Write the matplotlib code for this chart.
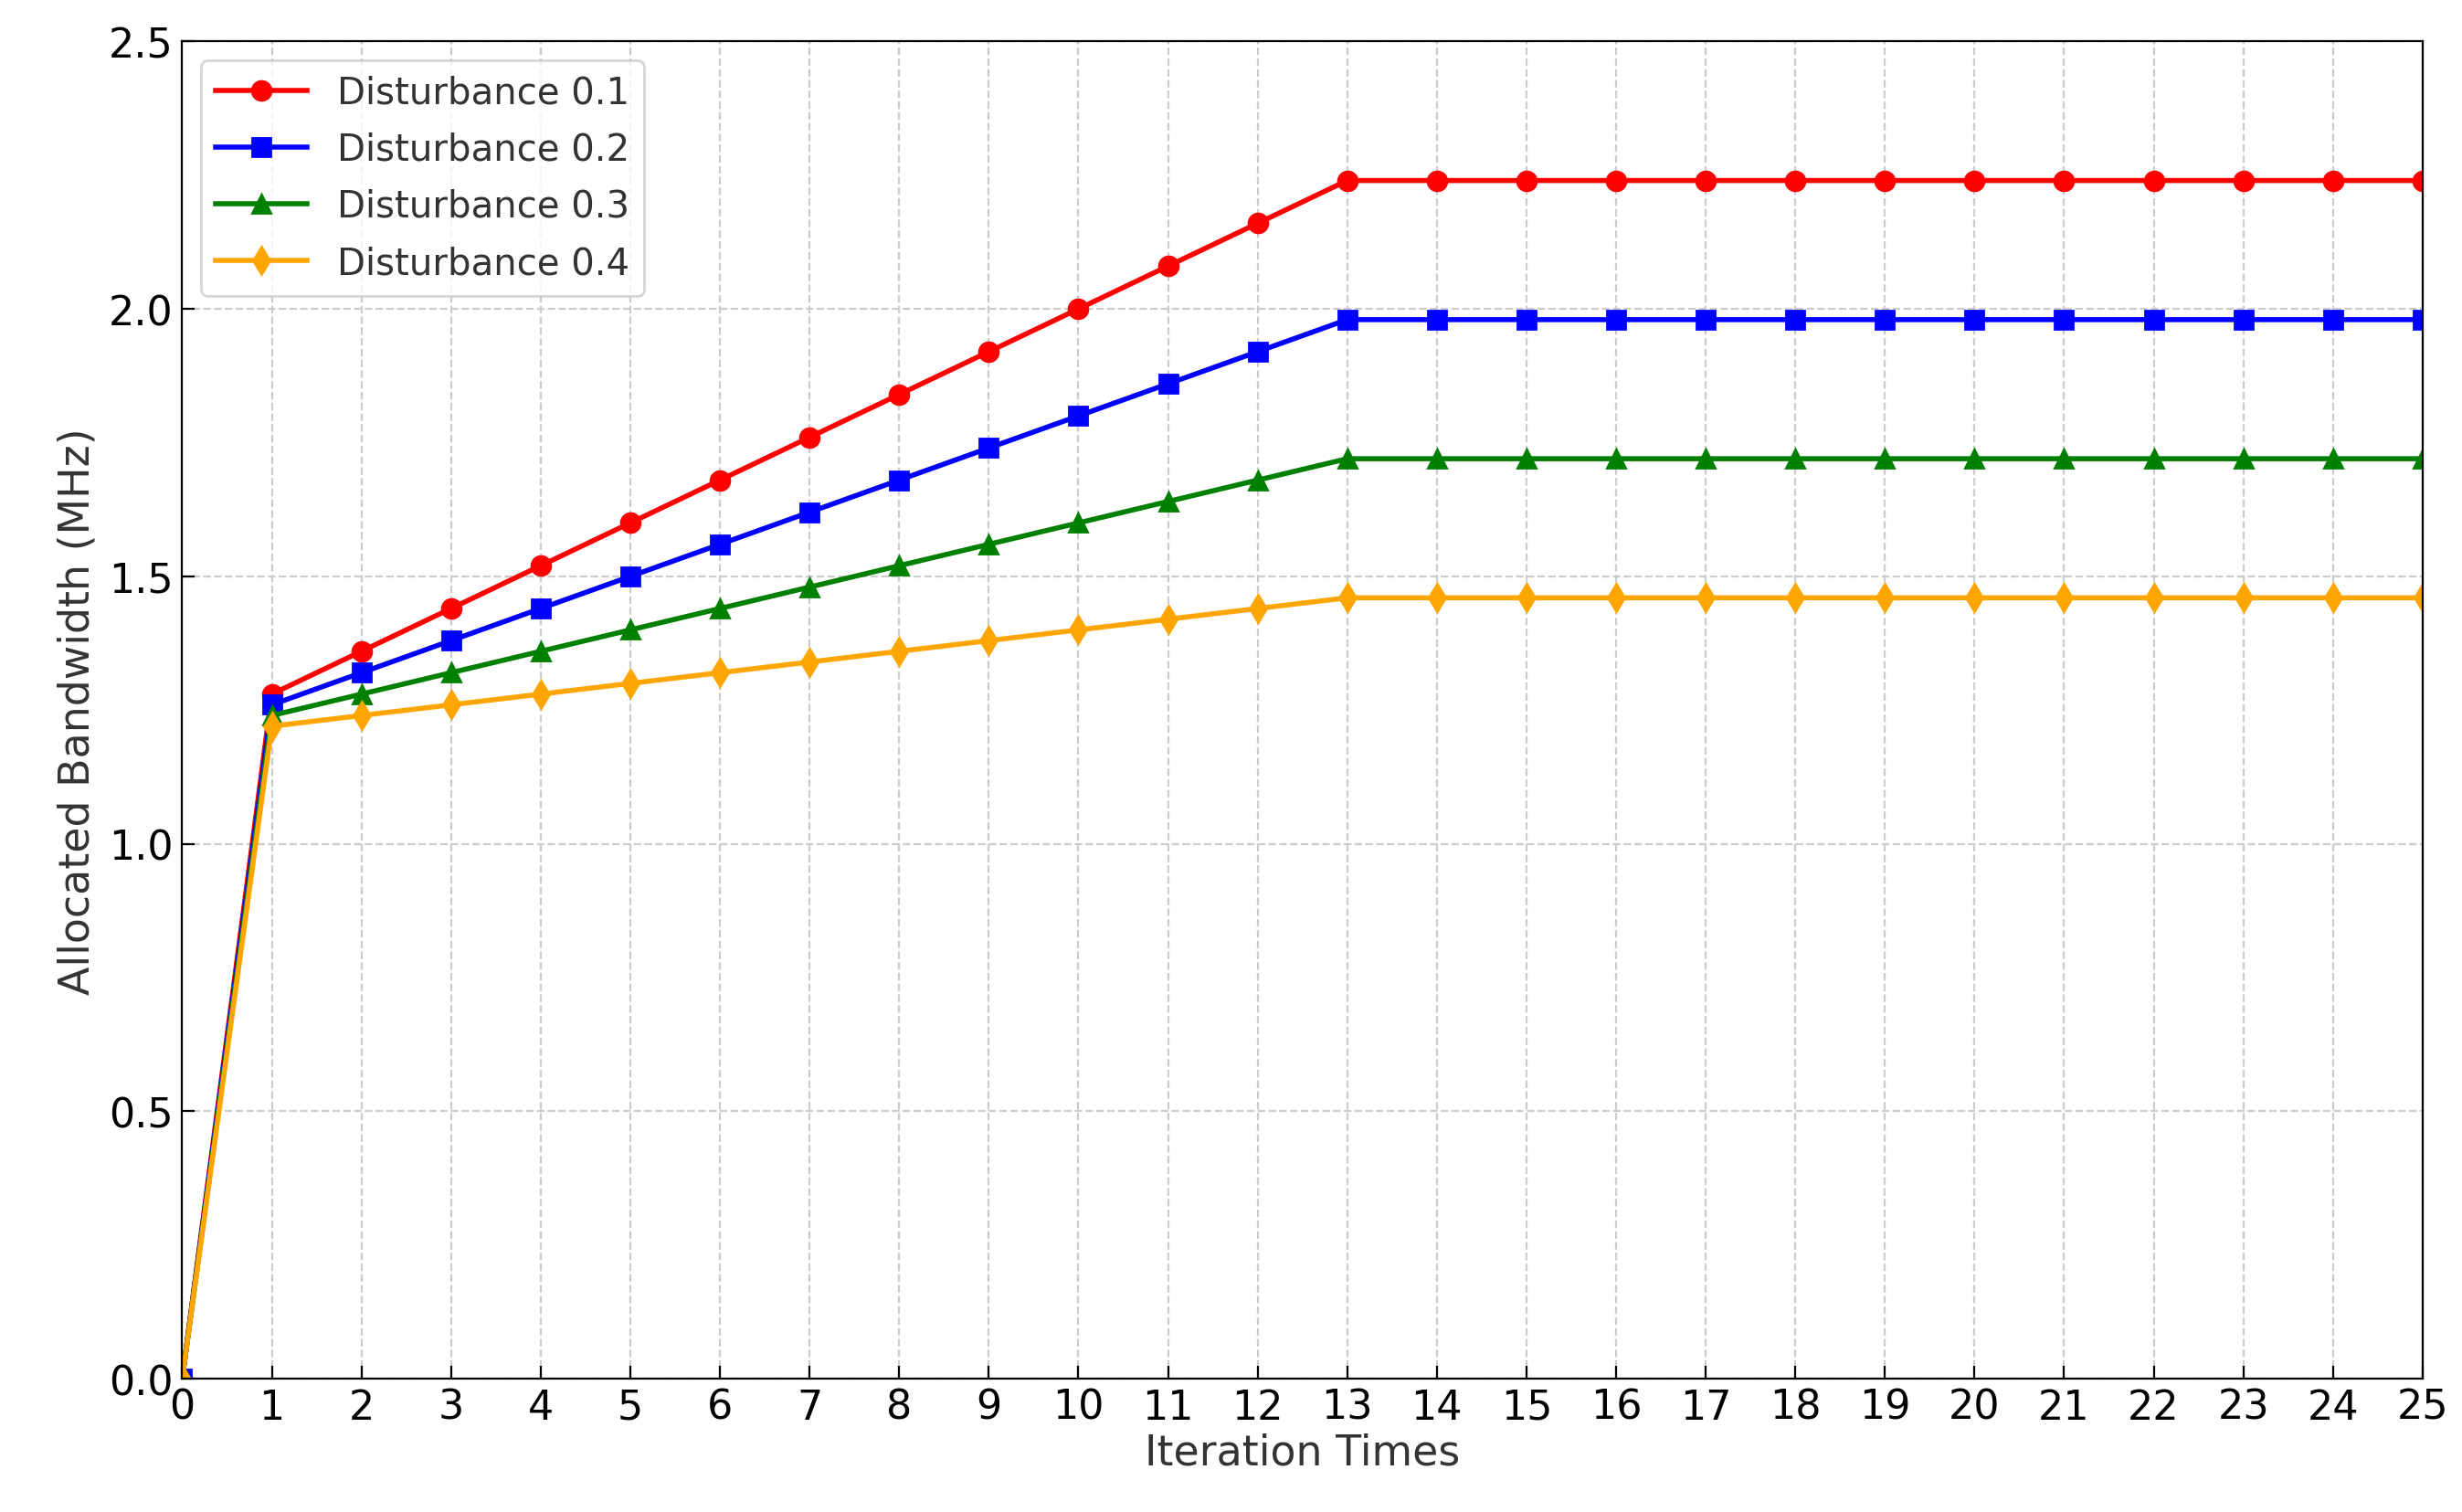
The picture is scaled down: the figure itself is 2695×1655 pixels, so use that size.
import matplotlib.pyplot as plt

iterations = list(range(26))
dist_01 = [0.0, 1.28, 1.36, 1.44, 1.52, 1.60, 1.68, 1.76, 1.84, 1.92, 2.00, 2.08, 2.16, 2.24,
           2.24, 2.24, 2.24, 2.24, 2.24, 2.24, 2.24, 2.24, 2.24, 2.24, 2.24, 2.24]
dist_02 = [0.0, 1.26, 1.32, 1.38, 1.44, 1.50, 1.56, 1.62, 1.68, 1.74, 1.80, 1.86, 1.92, 1.98,
           1.98, 1.98, 1.98, 1.98, 1.98, 1.98, 1.98, 1.98, 1.98, 1.98, 1.98, 1.98]
dist_03 = [0.0, 1.24, 1.28, 1.32, 1.36, 1.40, 1.44, 1.48, 1.52, 1.56, 1.60, 1.64, 1.68, 1.72,
           1.72, 1.72, 1.72, 1.72, 1.72, 1.72, 1.72, 1.72, 1.72, 1.72, 1.72, 1.72]
dist_04 = [0.0, 1.22, 1.24, 1.26, 1.28, 1.30, 1.32, 1.34, 1.36, 1.38, 1.40, 1.42, 1.44, 1.46,
           1.46, 1.46, 1.46, 1.46, 1.46, 1.46, 1.46, 1.46, 1.46, 1.46, 1.46, 1.46]

fig = plt.figure(figsize=(13.475, 8.28), dpi=200)
ax = fig.add_axes([0.074, 0.088, 0.91, 0.884])

ax.plot(iterations, dist_01, color="red", marker="o", lw=2, ms=7.5, label="Disturbance 0.1")
ax.plot(iterations, dist_02, color="blue", marker="s", lw=2, ms=7.5, label="Disturbance 0.2")
ax.plot(iterations, dist_03, color="green", marker="^", lw=2, ms=7.5, label="Disturbance 0.3")
ax.plot(iterations, dist_04, color="orange", marker="d", lw=2, ms=7.5, label="Disturbance 0.4")

ax.set_xlim(0, 25)
ax.set_ylim(0, 2.5)
ax.set_xticks(iterations)
ax.set_yticks([0.0, 0.5, 1.0, 1.5, 2.0, 2.5])
ax.tick_params(direction="in", labelsize=16, length=5)
ax.grid(True, linestyle="--", color="#cccccc", lw=0.8)
ax.set_xlabel("Iteration Times", fontsize=16.5, color="#333333", labelpad=2)
ax.set_ylabel("Allocated Bandwidth (MHz)", fontsize=16.5, color="#333333", labelpad=4)
leg = ax.legend(loc="upper left", fontsize=14.5, handlelength=2.5, labelspacing=0.55)
for t in leg.get_texts():
    t.set_color("#333333")

fig.savefig("out.png", dpi=200)
